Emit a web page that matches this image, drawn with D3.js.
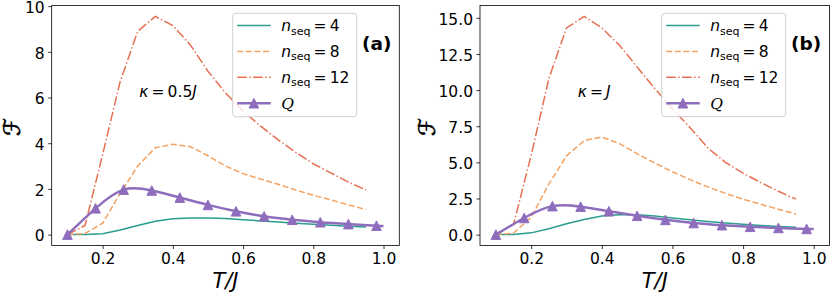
<!DOCTYPE html>
<html>
<head>
<meta charset="utf-8">
<script src="https://cdn.jsdelivr.net/npm/d3@7"></script>
<style>
  body { margin: 0; background: #fff; }
  svg text { font-family: "DejaVu Sans", sans-serif; fill: #000; }
</style>
</head>
<body>
<script>
// temperature grid shared by the n_seq curves
const tGrid = [0.10, 0.15, 0.20, 0.25, 0.30, 0.35, 0.40, 0.45, 0.50, 0.55, 0.60, 0.65, 0.70, 0.75, 0.80, 0.85, 0.90, 0.95];

// panel (a): kappa = 0.5J
const seq4A  = [0, 0.005, 0.04, 0.20, 0.40, 0.58, 0.69, 0.73, 0.73, 0.70, 0.65, 0.60, 0.55, 0.50, 0.45, 0.41, 0.37, 0.33];
const seq8A  = [0, 0.05, 0.50, 1.80, 3.00, 3.80, 3.95, 3.85, 3.45, 3.00, 2.67, 2.43, 2.20, 1.95, 1.72, 1.52, 1.30, 1.10];
const seq12A = [0, 0.40, 3.50, 6.70, 8.90, 9.55, 9.15, 8.30, 7.15, 6.20, 5.40, 4.75, 4.15, 3.60, 3.10, 2.70, 2.30, 1.95];

// panel (b): kappa = J
const seq4B  = [0, 0.01, 0.12, 0.40, 0.75, 1.05, 1.28, 1.38, 1.37, 1.28, 1.15, 1.02, 0.90, 0.80, 0.71, 0.63, 0.56, 0.50];
const seq8B  = [0, 0.10, 1.20, 3.50, 5.45, 6.50, 6.75, 6.30, 5.60, 4.95, 4.35, 3.80, 3.30, 2.85, 2.45, 2.10, 1.75, 1.42];
const seq12B = [0, 0.70, 5.50, 10.8, 14.3, 15.1, 14.3, 13.1, 11.6, 10.1, 8.70, 7.40, 6.00, 5.00, 4.25, 3.60, 3.00, 2.45];

// quantum bound Q (same in both panels); markers on all but the last point
const qT      = [0.10, 0.18, 0.26, 0.34, 0.42, 0.50, 0.58, 0.66, 0.74, 0.82, 0.90, 0.98, 1.00];
const qValues = [0, 1.15, 1.97, 1.93, 1.62, 1.30, 1.02, 0.80, 0.65, 0.54, 0.46, 0.39, 0.38];

const seqNames = ['4', '8', '12'];
const xTicks  = [0.2, 0.4, 0.6, 0.8, 1.0];
const yTicksA = [0, 2, 4, 6, 8, 10];
const yTicksB = [0, 2.5, 5.0, 7.5, 10.0, 12.5, 15.0];

const colors = ['#2a9d8f', '#f4a261', '#e76f51'];
const dashes = [null, '6,2.6', '9.6,2.4,1.5,2.4'];
const qColor = '#8f6dbd';

const width = 830;
const height = 295;
const plotTop = 5.5, plotBottom = 245.5;
const fs = 15.5;

const svg = d3.select('body')
  .append('svg')
  .attr('width', width)
  .attr('height', height);

const tri = r => `M0,${-r}L${r},${r}L${-r},${r}Z`;

function drawPanel(cfg) {
  const x = d3.scaleLinear().domain([0.055, 1.045]).range([cfg.left, cfg.right]);
  const yMax = d3.max(cfg.series.concat([qValues]), s => d3.max(s));
  const pad = yMax * 0.05;
  const y = d3.scaleLinear().domain([-pad, yMax + pad]).range([plotBottom, plotTop]);

  const g = svg.append('g');

  // axes
  const xAxis = d3.axisBottom(x).tickValues(xTicks).tickFormat(d3.format('.1f'))
    .tickSizeInner(3.5).tickSizeOuter(0).tickPadding(3.5);
  const yAxis = d3.axisLeft(y).tickValues(cfg.yTicks).tickFormat(d3.format(cfg.fmt))
    .tickSizeInner(3.5).tickSizeOuter(0).tickPadding(3.5);

  g.append('g').attr('transform', `translate(0,${plotBottom})`).call(xAxis)
    .call(a => a.select('.domain').remove());
  g.append('g').attr('transform', `translate(${cfg.left},0)`).call(yAxis)
    .call(a => a.select('.domain').remove())
    .call(a => a.selectAll('.tick text').attr('dy', '0.4em'));
  g.selectAll('.tick text').style('font-size', fs + 'px').style('font-family', '"DejaVu Sans", sans-serif').attr('fill', '#000');
  g.selectAll('.tick line').attr('stroke', '#000').attr('stroke-width', 0.8);

  // data lines, clipped to the axes box
  const clipId = 'clip' + cfg.tag;
  svg.append('clipPath').attr('id', clipId).append('rect')
    .attr('x', cfg.left).attr('y', plotTop).attr('width', cfg.right - cfg.left).attr('height', plotBottom - plotTop);
  const plot = g.append('g').attr('clip-path', `url(#${clipId})`);

  const line = d3.line().x((d, i) => x(tGrid[i])).y(d => y(d));
  cfg.series.forEach((s, k) => {
    plot.append('path')
      .attr('d', line(s))
      .attr('fill', 'none')
      .attr('stroke', colors[k])
      .attr('stroke-width', 1.5)
      .attr('stroke-dasharray', dashes[k]);
  });

  const qLine = d3.line().curve(d3.curveNatural).x((d, i) => x(qT[i])).y(d => y(d));
  plot.append('path')
    .attr('d', qLine(qValues))
    .attr('fill', 'none')
    .attr('stroke', qColor)
    .attr('stroke-width', 2.5);
  plot.selectAll('.mk')
    .data(qValues.slice(0, -1))
    .enter()
    .append('path')
    .attr('transform', (d, i) => `translate(${x(qT[i])},${y(d)})`)
    .attr('d', tri(4.8))
    .attr('fill', qColor)
    .attr('stroke', qColor)
    .attr('stroke-width', 1);

  // frame
  g.append('rect')
    .attr('x', cfg.left).attr('y', plotTop)
    .attr('width', cfg.right - cfg.left).attr('height', plotBottom - plotTop)
    .attr('fill', 'none').attr('stroke', '#000').attr('stroke-width', 0.8);

  // axis labels
  g.append('text')
    .attr('x', (cfg.left + cfg.right) / 2)
    .attr('y', 287.5)
    .attr('text-anchor', 'middle')
    .style('font-size', '21px')
    .style('font-style', 'italic')
    .text('T/J');
  g.append('text')
    .attr('transform', `translate(${cfg.yLabelX},127) rotate(-90)`)
    .attr('text-anchor', 'middle')
    .style('font-size', '23px')
    .attr('stroke', '#000')
    .attr('stroke-width', 0.6)
    .text('\u2131');

  // kappa annotation
  const kt = g.append('text').attr('x', cfg.kappaX).attr('y', 97).style('font-size', fs + 'px');
  kt.append('tspan').style('font-style', 'italic').text('\u03ba');
  kt.append('tspan').text(cfg.kappa);
  kt.append('tspan').style('font-style', 'italic').text('J');

  // panel tag
  g.append('text')
    .attr('x', cfg.tagX).attr('y', 50)
    .style('font-size', '18.5px')
    .style('font-weight', 'bold')
    .text(`(${cfg.tag})`);

  // legend
  const lx = cfg.legendX, ly = 13.3;
  const legend = g.append('g');
  legend.append('rect')
    .attr('x', lx).attr('y', ly)
    .attr('width', 124).attr('height', 103.4)
    .attr('rx', 3)
    .attr('fill', '#fff').attr('fill-opacity', 0.8)
    .attr('stroke', '#d0d0d0').attr('stroke-width', 1);

  const rowY = i => 25.5 + i * 25.9;
  seqNames.forEach((n, k) => {
    legend.append('line')
      .attr('x1', lx + 4.5).attr('x2', lx + 38)
      .attr('y1', rowY(k)).attr('y2', rowY(k))
      .attr('stroke', colors[k]).attr('stroke-width', 1.5)
      .attr('stroke-dasharray', dashes[k]);
    const t = legend.append('text')
      .attr('x', lx + 48.5).attr('y', rowY(k) + 5.5)
      .style('font-size', fs + 'px');
    t.append('tspan').style('font-style', 'italic').text('n');
    t.append('tspan').attr('dy', 3.5).style('font-size', '11px').text('seq');
    t.append('tspan').attr('dy', -3.5).text('\u2009=\u2009' + n);
  });
  legend.append('line')
    .attr('x1', lx + 4.5).attr('x2', lx + 38)
    .attr('y1', rowY(3)).attr('y2', rowY(3))
    .attr('stroke', qColor).attr('stroke-width', 2.5);
  legend.append('path')
    .attr('transform', `translate(${lx + 21.2},${rowY(3)})`)
    .attr('d', tri(4.8))
    .attr('fill', qColor).attr('stroke', qColor);
  legend.append('text')
    .attr('x', lx + 48.5).attr('y', rowY(3) + 5.5)
    .style('font-size', fs + 'px')
    .style('font-family', '"DejaVu Serif", serif')
    .style('font-style', 'italic')
    .text('Q');
}

drawPanel({
  tag: 'a', left: 51.7, right: 399.3,
  series: [seq4A, seq8A, seq12A],
  yTicks: yTicksA, fmt: 'd',
  legendX: 232.7, tagX: 362, kappaX: 139.3, yLabelX: 20,
  kappa: '\u2009=\u20090.5'
});

drawPanel({
  tag: 'b', left: 480, right: 829.6,
  series: [seq4B, seq8B, seq12B],
  yTicks: yTicksB, fmt: '.1f',
  legendX: 661.7, tagX: 791, kappaX: 577.7, yLabelX: 435,
  kappa: '\u2009=\u2009'
});
</script>
</body>
</html>
